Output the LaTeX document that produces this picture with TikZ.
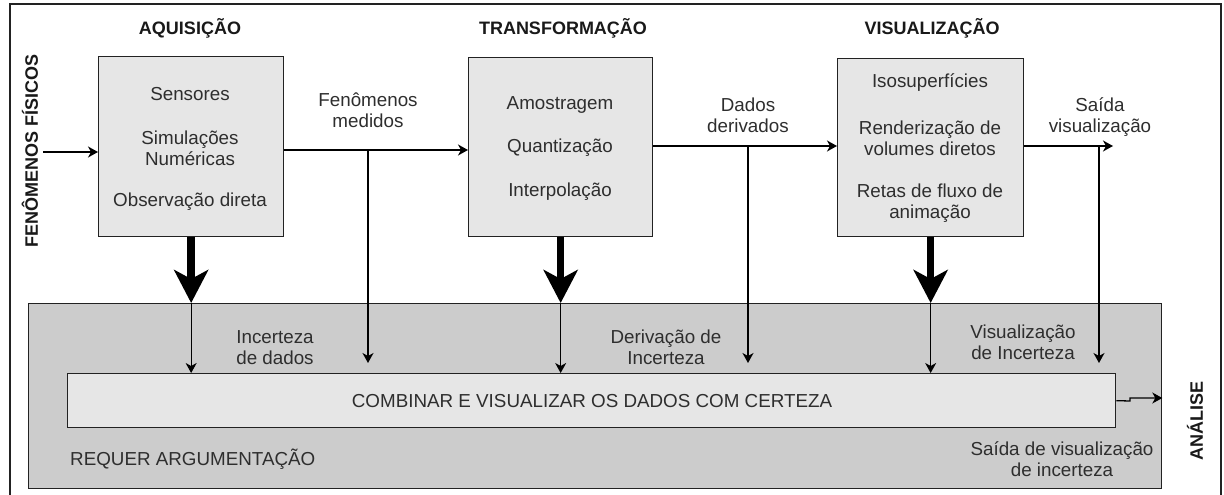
\documentclass[tikz,border=0pt]{standalone}
\usepackage{fontspec}
\setmainfont{Liberation Sans}
\usetikzlibrary{arrows.meta}
\definecolor{txt}{HTML}{2E2E2E}
\definecolor{boxfill}{HTML}{E6E6E6}
\definecolor{bandfill}{HTML}{CCCCCC}
\definecolor{edge}{HTML}{222222}
\begin{document}
\begin{tikzpicture}[x=1pt,y=-1pt,
  body/.style={font=\fontsize{18.8}{21}\selectfont, text=txt, align=center, inner sep=0pt},
  title/.style={font=\fontsize{18}{21}\selectfont\bfseries, text=black!90, inner sep=0pt},
  stagebox/.style={draw=edge, line width=1.3pt, fill=boxfill, anchor=north west, inner sep=0pt},
  smallarrow/.style={draw=black, line width=1.3pt, -{Stealth[length=10pt,width=11pt,inset=3pt]}},
  bigarrow/.style={draw=black, line width=7.5pt, -{Stealth[length=33pt,width=34pt,inset=9pt]}},
]
\useasboundingbox (0,0) rectangle (1224,495);
% outer frame
\draw[edge, line width=1.3pt] (10,4) rectangle (1221,505);

% band and combine box
\node[stagebox, fill=bandfill, minimum width=1133pt, minimum height=185pt] (band) at (28,303) {};
\node[stagebox, minimum width=1048pt, minimum height=54pt, body] (comb) at (67,373) {};
\node[body] (combtxt) at (592,401) {COMBINAR E VISUALIZAR OS DADOS COM CERTEZA};

% stage boxes
\node[stagebox, minimum width=185pt, minimum height=180pt] (acq) at (98,56) {};
\node[stagebox, minimum width=184pt, minimum height=179pt] (tra) at (468,57) {};
\node[stagebox, minimum width=186pt, minimum height=178pt] (vis) at (837,58) {};

% titles
\node[title] (tacq) at (190,28) {AQUISIÇÃO};
\node[title] (ttra) at (563,28) {TRANSFORMAÇÃO};
\node[title] (tvis) at (932,28) {VISUALIZAÇÃO};
\node[title, rotate=90] (tfen) at (30,151) {FENÔMENOS FÍSICOS};
\node[title, rotate=90] (tana) at (1195,421) {ANÁLISE};

% box contents
\node[body] (a1) at (190,94) {Sensores};
\node[body] (a2) at (190,148.5) {Simulações\\Numéricas};
\node[body] (a3) at (190,202) {Observação direta};
\node[body] (b1) at (560,105) {Amostragem};
\node[body] (b2) at (560,148) {Quantização};
\node[body] (b3) at (560,192) {Interpolação};
\node[body] (c1) at (930,83) {Isosuperfícies};
\node[body] (c2) at (930,138.5) {Renderização de\\volumes diretos};
\node[body] (c3) at (930,203) {Retas de fluxo de\\animação};

% flow labels
\node[body] (l1) at (368,110) {Fenômenos\\medidos};
\node[body] (l2) at (748,115) {Dados\\derivados};
\node[body] (l3) at (1100,117) {Saída\\visualização};
\node[body] (l4) at (275,347.5) {Incerteza\\de dados};
\node[body] (l5) at (666,347) {Derivação de\\Incerteza};
\node[body] (l6) at (1023,342.5) {Visualização\\de Incerteza};
\node[body] (l7) at (1062,459.5) {Saída de visualização\\de incerteza};
\node[body, anchor=west] (l8) at (70,459) {REQUER ARGUMENTAÇÃO};

% coordinates
\coordinate (src) at (43,152);
\coordinate (m1) at (368,150);
\coordinate (m1e) at (368,363);
\coordinate (m2) at (748,146);
\coordinate (m2e) at (748,363);
\coordinate (outv) at (1113,146);
\coordinate (m3) at (1099,146);
\coordinate (m3e) at (1099,363);
\coordinate (j1) at (1130,401);
\coordinate (j2) at (1130,398);

% horizontal flow
\draw[smallarrow] (src) -- (src -| acq.west);
\draw[smallarrow] (acq.east |- m1) -- (tra.west |- m1);
\draw[smallarrow] (tra.east |- m2) -- (vis.west |- m2);
\draw[smallarrow] (vis.east |- m3) -- (outv);

% vertical thin drops
\draw[smallarrow] (m1) -- (m1e);
\draw[smallarrow] (m2) -- (m2e);
\draw[smallarrow] (m3) -- (m3e);

% thick arrows and continuations
\foreach \b in {acq,tra,vis}{
  \draw[bigarrow] (\b.south) -- (\b.south |- band.north);
  \draw[smallarrow] (\b.south |- band.north) -- (\b.south |- comb.north);
}

% output of combine box
\draw[smallarrow] (comb.east) -- (j1) -- (j2) -- (j2 -| band.east);
\end{tikzpicture}
\end{document}
